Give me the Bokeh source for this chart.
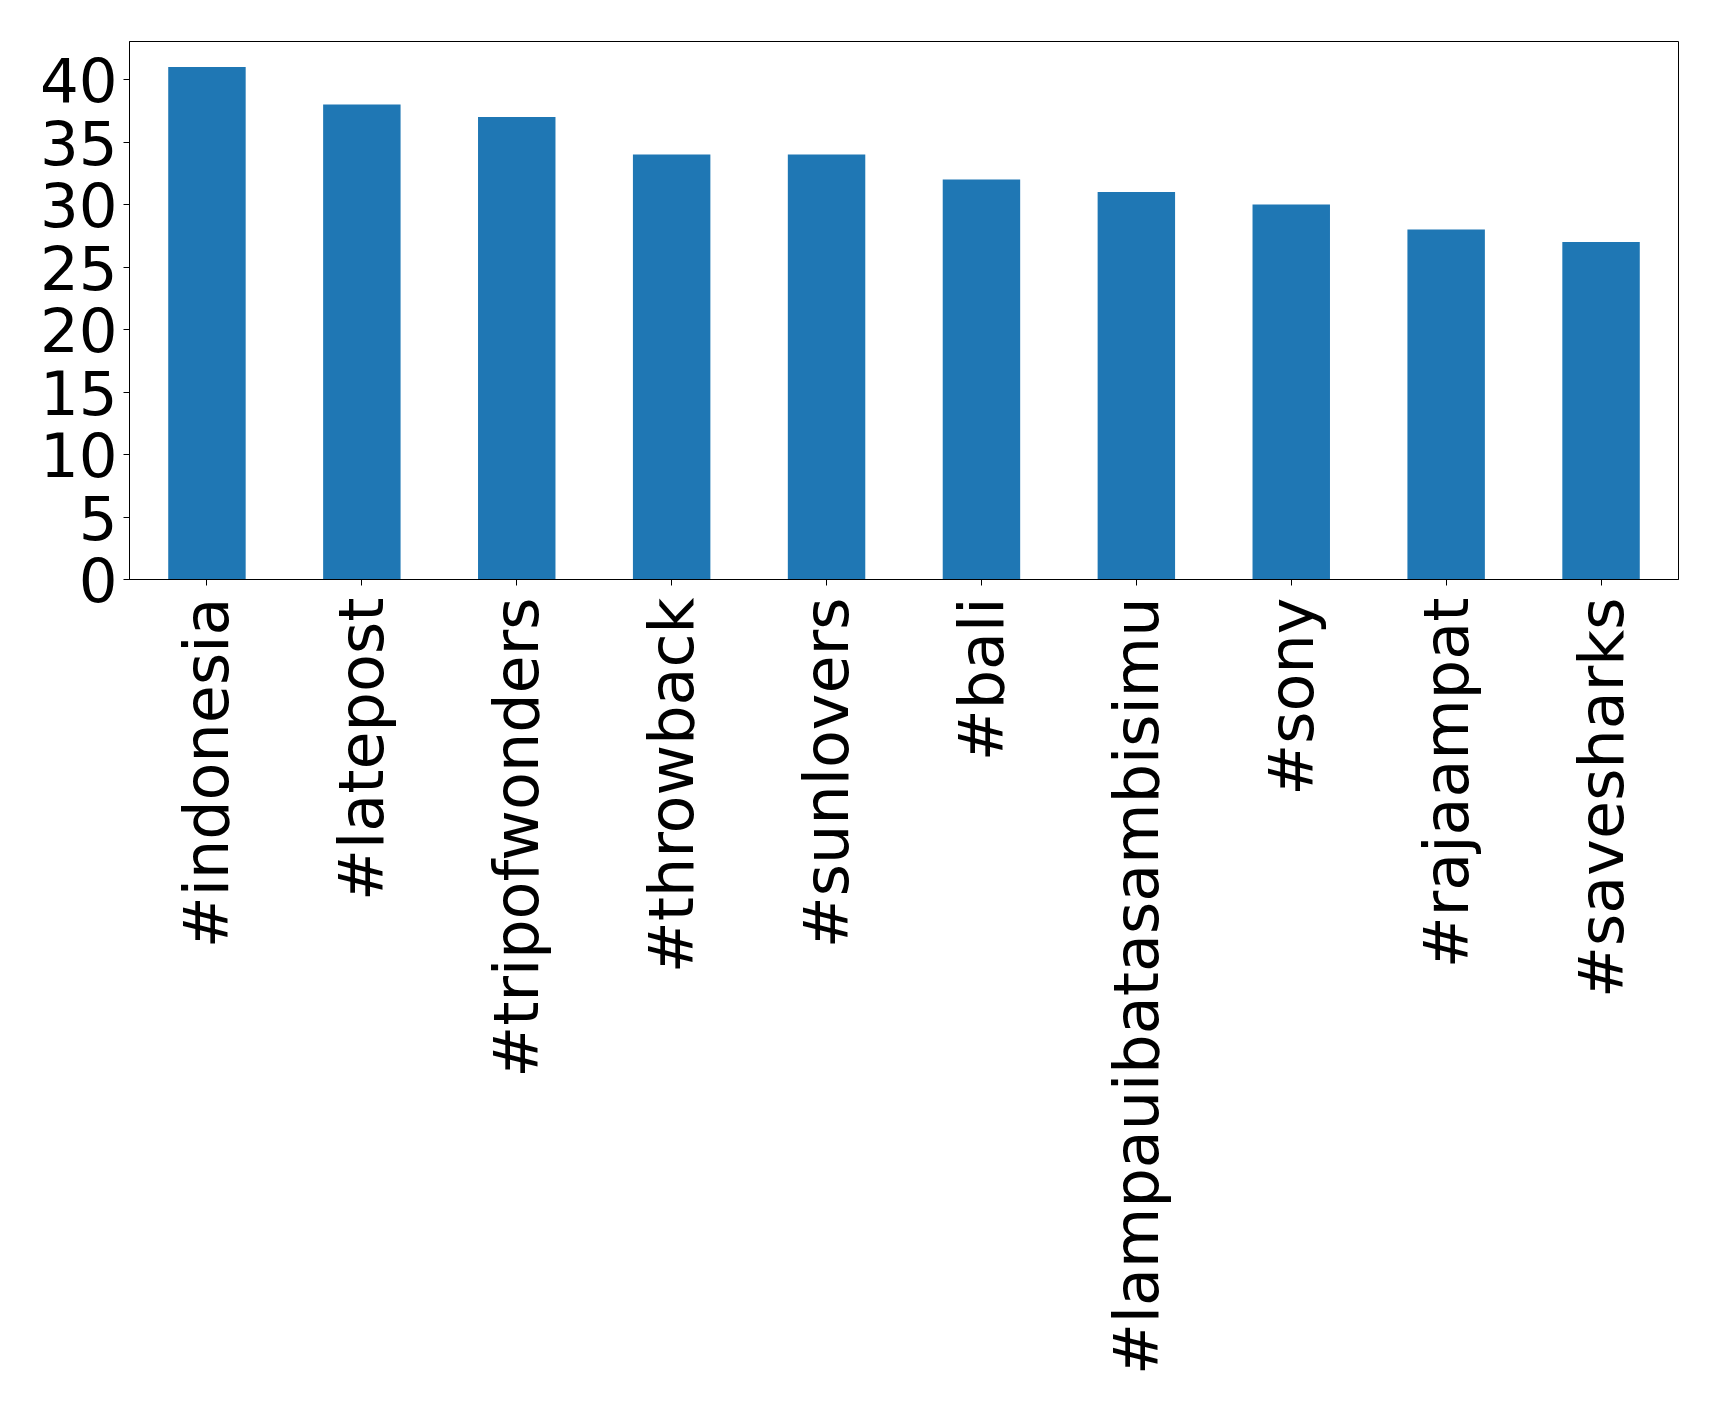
import math
from bokeh.plotting import figure
from bokeh.models import FactorRange, Range1d, SingleIntervalTicker, ColumnDataSource
from bokeh.embed import file_html
from bokeh.resources import INLINE

hashtags = ["#indonesia", "#latepost", "#tripofwonders", "#throwback", "#sunlovers",
            "#bali", "#lampauibatasambisimu", "#sony", "#rajaampat", "#savesharks"]
counts = [41, 38, 37, 34, 34, 32, 31, 30, 28, 27]

src = ColumnDataSource(dict(x=hashtags, y=counts))

p = figure(width=1711, height=1403, output_backend="svg", toolbar_location=None,
           x_range=FactorRange(factors=hashtags, range_padding=0),
           y_range=Range1d(0, max(counts) * 1.05),
           min_border_left=129, min_border_right=33, min_border_top=41, min_border_bottom=824)

p.vbar(x="x", top="y", width=0.5, source=src, color="#1f77b4", line_color=None)

p.xgrid.visible = False
p.ygrid.visible = False
p.outline_line_color = "black"
p.outline_line_width = 1
p.outline_line_alpha = 1

for ax in (p.xaxis[0], p.yaxis[0]):
    ax.major_label_text_font = "DejaVu Sans"
    ax.major_label_text_color = "black"
    ax.axis_line_color = "black"
    ax.major_tick_line_color = "black"
    ax.major_tick_out = 6
    ax.major_tick_in = 0
    ax.minor_tick_out = 0
    ax.minor_tick_in = 0

p.yaxis[0].major_label_text_font_size = "61px"
p.xaxis[0].major_label_text_font_size = "62px"
p.yaxis[0].ticker = SingleIntervalTicker(interval=5)
p.yaxis[0].major_label_standoff = 6
p.xaxis[0].major_label_orientation = math.pi / 2
p.xaxis[0].major_label_standoff = 12

open("out.html", "w").write(file_html(p, INLINE))
